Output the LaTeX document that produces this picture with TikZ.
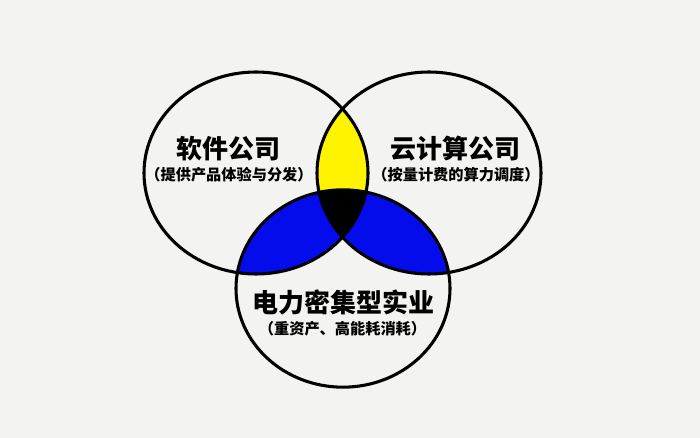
\documentclass[tikz,border=0pt]{standalone}
\usepackage{fontspec}
\newfontfamily\cjk{Noto Sans CJK SC}
\usepackage{tikz}
\definecolor{bgcol}{RGB}{243,243,241}
\definecolor{venyellow}{RGB}{255,243,0}
\definecolor{venblue}{RGB}{5,12,235}

\begin{document}
\begin{tikzpicture}[x=0.75pt,y=-0.75pt,
  ring/.style={line width=2.3pt, black},
  headtext/.style={font=\cjk\bfseries\fontsize{19.5}{22}\selectfont, inner sep=0pt},
  subtext/.style={font=\cjk\bfseries\fontsize{11.4}{13}\selectfont, inner sep=0pt}]

    \fill[bgcol] (0,0) rectangle (700,438);
    \useasboundingbox (0,0) rectangle (700,438);

    \coordinate (lc) at (256,173);
    \coordinate (rc) at (429,173);
    \coordinate (bc) at (343,288.5);

    \begin{scope}
        \clip (lc) ellipse [x radius=84pt, y radius=75.75pt];
        \fill[venyellow] (rc) ellipse [x radius=84pt, y radius=75.75pt];
    \end{scope}
    \begin{scope}
        \clip (bc) ellipse [x radius=80.25pt, y radius=74pt];
        \fill[venblue] (lc) ellipse [x radius=84pt, y radius=75.75pt];
        \fill[venblue] (rc) ellipse [x radius=84pt, y radius=75.75pt];
    \end{scope}
    \begin{scope}
        \clip (lc) ellipse [x radius=84pt, y radius=75.75pt];
        \clip (rc) ellipse [x radius=84pt, y radius=75.75pt];
        \fill[black] (bc) ellipse [x radius=80.25pt, y radius=74pt];
    \end{scope}

    \draw[ring] (lc) ellipse [x radius=84pt, y radius=75.75pt];
    \draw[ring] (rc) ellipse [x radius=84pt, y radius=75.75pt];
    \draw[ring] (bc) ellipse [x radius=80.25pt, y radius=74pt];

    \node[headtext] (software) at (228,149) {软件公司};
    \node[subtext] (softwaresub) at (229,175) {（提供产品体验与分发）};
    \node[headtext] (cloud) at (455,149) {云计算公司};
    \node[subtext] (cloudsub) at (456,175) {（按量计费的算力调度）};
    \node[headtext] (power) at (343,302) {电力密集型实业};
    \node[subtext] (powersub) at (342.5,329) {（重资产、高能耗消耗）};

\end{tikzpicture}
\end{document}
